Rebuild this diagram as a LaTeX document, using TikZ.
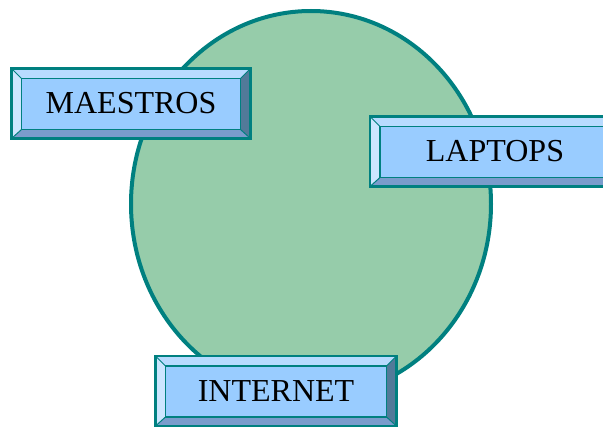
\documentclass[tikz,border=0pt]{standalone}
\usepackage{fontspec}
\setmainfont{Liberation Serif}
\usepackage{tikz}
\usetikzlibrary{shapes}

\definecolor{teal}{RGB}{0,128,128}
\definecolor{discgreen}{RGB}{150,204,170}
\definecolor{boxface}{RGB}{153,204,255}
\definecolor{bevtop}{RGB}{184,219,255}
\definecolor{bevleft}{RGB}{204,230,255}
\definecolor{bevright}{RGB}{82,122,153}
\definecolor{bevbottom}{RGB}{122,156,204}

\tikzset{
  bevelbox/.style={rectangle, draw=teal, line width=2.5pt, fill=boxface,
    minimum width=#1, minimum height=70pt, inner sep=0pt,
    font=\fontsize{32}{36}\selectfont,
    path picture={
      \coordinate (nw) at (path picture bounding box.north west);
      \coordinate (ne) at (path picture bounding box.north east);
      \coordinate (sw) at (path picture bounding box.south west);
      \coordinate (se) at (path picture bounding box.south east);
      \coordinate (inw) at ([xshift=10pt,yshift=-10pt]nw);
      \coordinate (ine) at ([xshift=-10pt,yshift=-10pt]ne);
      \coordinate (isw) at ([xshift=10pt,yshift=9pt]sw);
      \coordinate (ise) at ([xshift=-10pt,yshift=9pt]se);
      \fill[bevtop] (nw) -- (ne) -- (ine) -- (inw) -- cycle;
      \fill[bevleft] (nw) -- (inw) -- (isw) -- (sw) -- cycle;
      \fill[bevright] (ne) -- (se) -- (ise) -- (ine) -- cycle;
      \fill[bevbottom] (sw) -- (isw) -- (ise) -- (se) -- cycle;
      \draw[teal, line width=1.2pt] (inw) rectangle (ise);
      \draw[teal, line width=1pt] (nw) -- (inw) (ne) -- (ine) (sw) -- (isw) (se) -- (ise);
    }},
  bevelbox/.default=239pt
}

\begin{document}
\begin{tikzpicture}[x=1pt, y=-1pt]
		\useasboundingbox (0,0) rectangle (603,428);
		\node at (311,204) [ellipse, draw=teal, line width=4pt, fill=discgreen, minimum width=360pt, minimum height=386pt, inner sep=0pt] (disc) {};
		\node at (131,103.5) [bevelbox=239pt] (maestros) {MAESTROS};
		\node at (495,151.5) [bevelbox=250pt] (laptops) {LAPTOPS};
		\node at (276,391) [bevelbox=241pt] (internet) {INTERNET};
	\end{tikzpicture}
\end{document}
